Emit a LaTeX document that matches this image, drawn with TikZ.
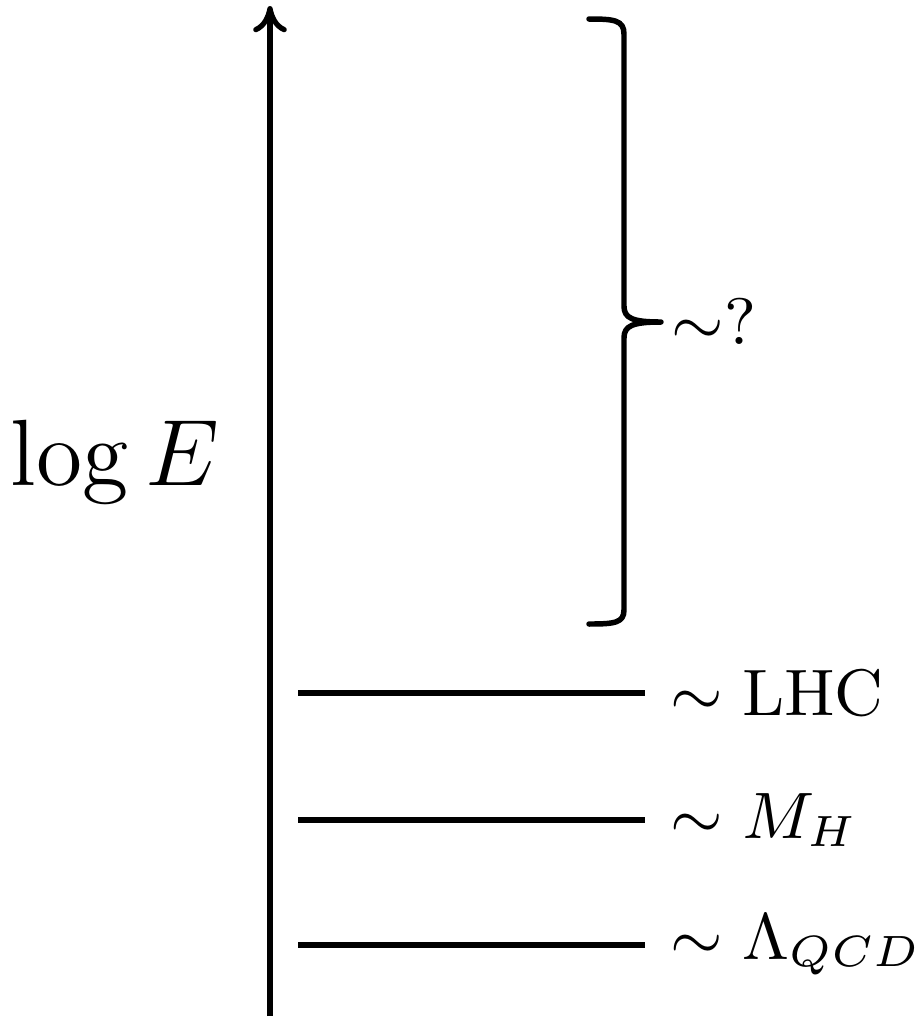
\documentclass[tikz,border=0pt]{standalone}
\usetikzlibrary{arrows.meta}
\begin{document}
\begin{tikzpicture}[x=0.137pt,y=-0.137pt,
  axisline/.style={line width=0.72pt,-{Computer Modern Rightarrow[length=3.6pt,width=4.6pt]}},
  scaleline/.style={line width=0.75pt},
  bracestyle/.style={line width=0.75pt,line join=round,line cap=round},
  lab/.style={anchor=west,font=\fontsize{9}{11}\selectfont},
  big/.style={font=\fontsize{12}{14}\selectfont,scale=1.075}]
\useasboundingbox (0,0) rectangle (920,1018);
\coordinate (ax0) at (270,1016);
\coordinate (ax1) at (270,6);
\draw[axisline] (ax0) -- (ax1);
\node[big] (logE) at (115,462) {$\log E$};
% brace
\coordinate (b0) at (589,19);
\coordinate (b1) at (589,624);
\coordinate (btip) at (661,322);
\draw[bracestyle] (b0) .. controls (614,19) and (624,20) .. (624,34)
  -- (624,306) .. controls (624,318) and (632,322) .. (btip)
  .. controls (632,322) and (624,326) .. (624,338)
  -- (624,610) .. controls (624,623) and (614,624) .. (b1);
\node[lab,inner sep=1.3pt] (q) at (btip) {$\sim ?$};
% lines
\coordinate (l1a) at (298,693);
\coordinate (l1b) at (645,693);
\coordinate (l2a) at (298,820);
\coordinate (l2b) at (645,820);
\coordinate (l3a) at (298,945);
\coordinate (l3b) at (645,945);
\draw[scaleline] (l1a) -- (l1b);
\draw[scaleline] (l2a) -- (l2b);
\draw[scaleline] (l3a) -- (l3b);
\node[lab] (lhc) at (l1b) {$\sim \mathrm{LHC}$};
\node[lab] (mh) at (l2b) {$\sim M_H$};
\node[lab] (lqcd) at (l3b) {$\sim \Lambda_{QCD}$};
\end{tikzpicture}
\end{document}
